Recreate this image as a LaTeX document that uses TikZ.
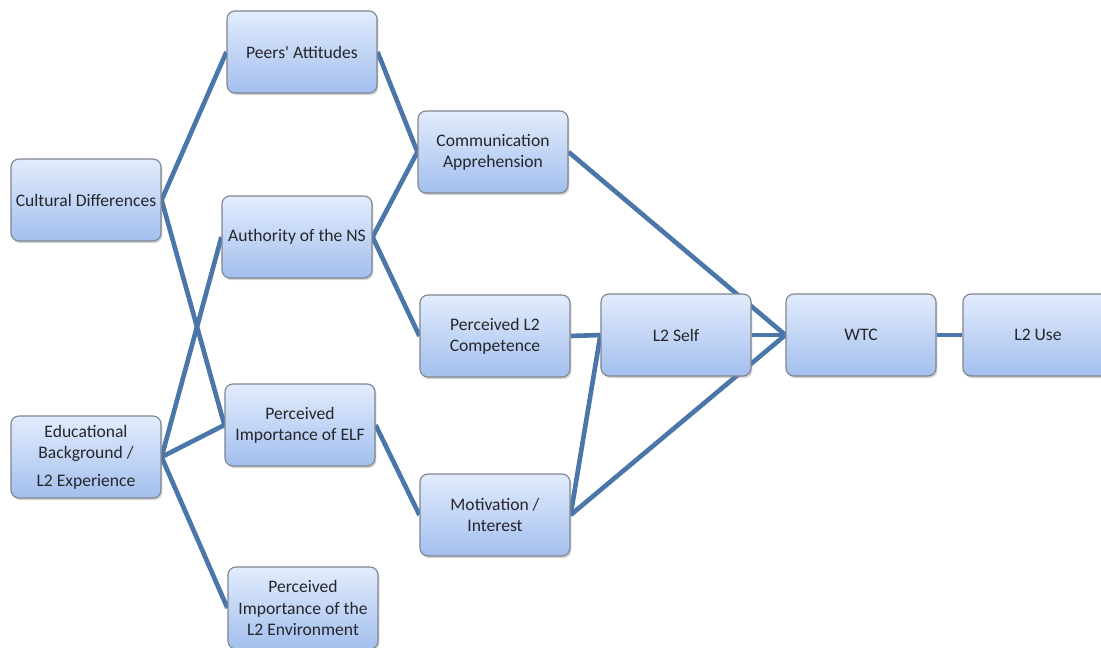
\documentclass[tikz,border=0pt]{standalone}
\usepackage{fontspec}
\setmainfont{Carlito}
\usetikzlibrary{shadows, backgrounds}

\definecolor{boxtop}{HTML}{E2ECFD}
\definecolor{boxbot}{HTML}{A3BFEE}
\definecolor{boxline}{HTML}{7F8590}
\definecolor{linkblue}{HTML}{4A76AA}
\definecolor{txtgray}{HTML}{26262B}

\begin{document}
\begin{tikzpicture}[x=0.025cm, y=-0.025cm,
    factor/.style={draw=boxline, line width=0.8pt, rounded corners=0.2cm,
        top color=boxtop, bottom color=boxbot, text=txtgray,
        minimum width=3.75cm, minimum height=2.05cm, align=center,
        font=\fontsize{12.5}{15}\selectfont, inner sep=1pt,
        drop shadow={opacity=0.35, shadow xshift=1pt, shadow yshift=-1.5pt}},
    link/.style={draw=linkblue, line width=3.3pt}]
\useasboundingbox (0,0) rectangle (1101,647);
          \node[factor](peers)  at (302,52) {Peers\textquotesingle\ Attitudes};
          \node[factor](culture)  at (86,200) {Cultural Differences};
      \node[factor](authority)  at (297,237) {Authority of the NS};
      \node[factor](apprehension)  at (493,152) {Communication\\Apprehension};
      \node[factor](competence)  at (495,336) {Perceived L2\\Competence};
      \node[factor](self)  at (676,335) {L2 Self};
      \node[factor](wtc)  at (861,335) {WTC};
      \node[factor](use)  at (1038,335) {L2 Use};
      \node[factor](education)  at (86,457) {Educational\\Background /\\[5pt]L2 Experience};
      \node[factor](elf)  at (300,425) {Perceived\\Importance of ELF};
      \node[factor](motivation)  at (495,515) {Motivation /\\Interest};
      \node[factor](environment)  at (303,608) {Perceived\\Importance of the\\L2 Environment};
   \begin{scope}[on background layer]
      \draw[link] (culture.east) -- (peers.west);
      \draw[link] (culture.east) -- (elf.west);
      \draw[link] (education.east) -- (authority.west);
      \draw[link] (education.east) -- (elf.west);
      \draw[link] (education.east) -- (environment.west);
      \draw[link] (peers.east) -- (apprehension.west);
      \draw[link] (authority.east) -- (apprehension.west);
      \draw[link] (authority.east) -- (competence.west);
      \draw[link] (elf.east) -- (motivation.west);
      \draw[link] (apprehension.east) -- (wtc.west);
      \draw[link] (competence.east) -- (self.west);
      \draw[link] (self.east) -- (wtc.west);
      \draw[link] (motivation.east) -- (wtc.west);
      \draw[link] (motivation.east) -- (self.west);
      \draw[link] (wtc.east) -- (use.west);
   \end{scope}
          \end{tikzpicture}
\end{document}
